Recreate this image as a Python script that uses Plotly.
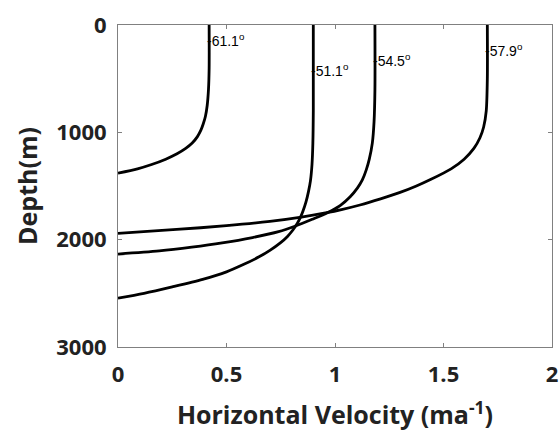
import plotly.graph_objects as go

# depth (m) vs horizontal velocity (m/a)
depth_611 = [0, 400, 600, 750, 850, 920, 980, 1040, 1100, 1150, 1200, 1250, 1300, 1340, 1380]
vel_611 = [0.42, 0.42, 0.417, 0.411, 0.403, 0.393, 0.382, 0.366, 0.342, 0.312, 0.272, 0.22, 0.155, 0.09, 0.0]

depth_511 = [0, 800, 1100, 1300, 1450, 1550, 1650, 1730, 1790, 1850, 1910, 1972, 2030, 2100,
             2160, 2230, 2300, 2370, 2440, 2500, 2545]
vel_511 = [0.90, 0.90, 0.898, 0.894, 0.887, 0.878, 0.866, 0.853, 0.841, 0.826, 0.806, 0.78, 0.748, 0.70,
           0.65, 0.58, 0.50, 0.39, 0.25, 0.12, 0.0]

depth_545 = [0, 600, 900, 1100, 1250, 1350, 1444, 1520, 1600, 1680, 1749, 1810, 1875,
             1926, 1980, 2030, 2070, 2105, 2134]
vel_545 = [1.184, 1.184, 1.180, 1.172, 1.158, 1.144, 1.126, 1.103, 1.07, 1.025, 0.965, 0.895, 0.815,
           0.74, 0.62, 0.48, 0.34, 0.19, 0.0]

depth_579 = [0, 500, 800, 950, 1050, 1150, 1250, 1340, 1440, 1500, 1560, 1620, 1677, 1720,
             1749, 1790, 1830, 1870, 1905, 1941]
vel_579 = [1.702, 1.702, 1.697, 1.685, 1.668, 1.64, 1.595, 1.535, 1.44, 1.375, 1.30, 1.21, 1.115, 1.03,
           0.962, 0.845, 0.70, 0.50, 0.27, 0.0]

curves = [
    (depth_611, vel_611),
    (depth_511, vel_511),
    (depth_545, vel_545),
    (depth_579, vel_579),
]

labels = ["-61.1", "-51.1", "-54.5", "-57.9"]
label_depth = [140, 420, 326, 233]

TICK_FONT = dict(family="Open Sans, Lato, sans-serif", size=22, color="#222222", weight="bold")
TITLE_FONT = dict(family="Open Sans, Lato, sans-serif", size=25, color="#222222", weight="bold")

fig = go.Figure()
for d, v in curves:
    fig.add_trace(go.Scatter(
        x=v, y=d, mode="lines", line=dict(color="black", width=2.8, shape="spline", smoothing=0.8),
        showlegend=False, hoverinfo="skip",
    ))

for (d, v), lab, ld in zip(curves, labels, label_depth):
    fig.add_annotation(
        x=v[0], y=ld, text=lab + "<sup>o</sup>", showarrow=False,
        xanchor="left", yanchor="middle", xshift=-4,
        font=dict(family="Liberation Sans, Arial, sans-serif", size=14, color="black"),
    )

fig.update_xaxes(
    range=[0, 2], tickvals=[0, 0.5, 1, 1.5, 2], ticktext=["0", "0.5", "1", "1.5", "2"],
    ticks="inside", ticklen=4, tickcolor="#808080", showline=True, linecolor="#808080",
    linewidth=1, mirror="ticks", showgrid=False, zeroline=False, tickfont=TICK_FONT,
    automargin=False, ticklabelstandoff=8,
    title=dict(text="Horizontal Velocity (ma<sup>-1</sup>)", font=TITLE_FONT, standoff=19),
)
fig.update_yaxes(
    range=[3000, 0], tickvals=[0, 1000, 2000, 3000],
    ticks="inside", ticklen=4, tickcolor="#808080", showline=True, linecolor="#808080",
    linewidth=1, mirror="ticks", showgrid=False, zeroline=False, tickfont=TICK_FONT,
    automargin=False, ticklabelstandoff=6,
    title=dict(text="Depth(m)", font=TITLE_FONT, standoff=11),
)
fig.update_layout(
    width=560, height=434,
    margin=dict(l=118, r=8, t=25, b=87),
    plot_bgcolor="white", paper_bgcolor="white",
)
fig.write_html("out.html", config={"displayModeBar": False},
               post_script="document.body.style.margin='0';")
